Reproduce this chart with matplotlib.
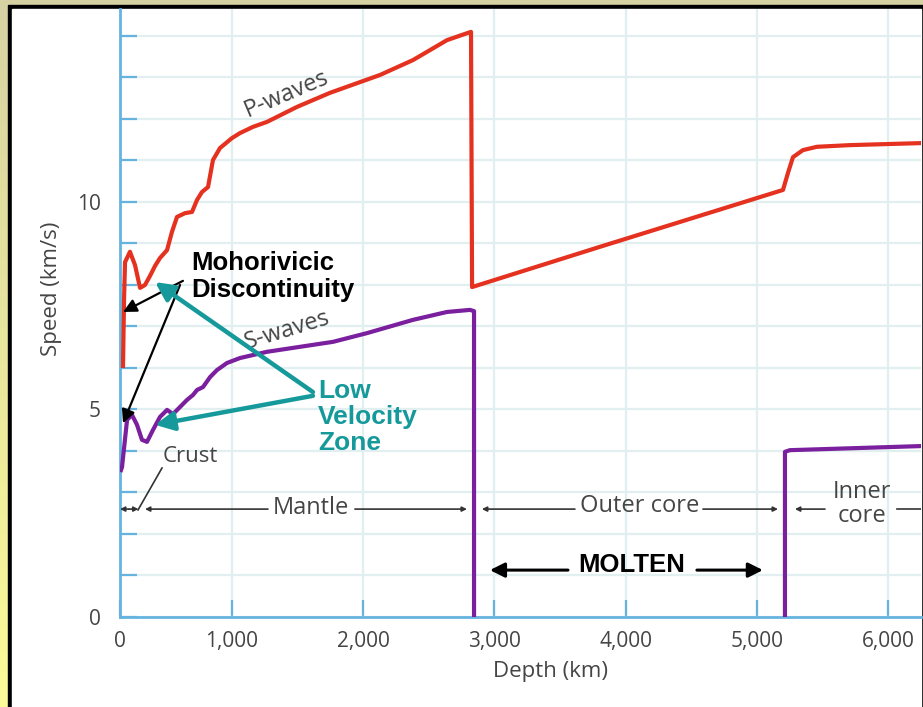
import numpy as np
import matplotlib
matplotlib.use("Agg")
import matplotlib.pyplot as plt
from matplotlib.patches import Rectangle
from matplotlib.colors import LinearSegmentedColormap

# P-wave speed (km/s) against depth (km)
p_depth = [27, 36, 45, 89, 134, 179, 223, 268, 313, 357, 420, 464, 509, 580, 643,
           688, 732, 786, 830, 893, 1000, 1061, 1160, 1267, 1495, 1747, 2128, 2380,
           2639, 2822, 2830, 3805, 5200, 5238, 5276, 5352, 5459, 5710, 6267]
p_speed = [6.05, 7.64, 8.55, 8.80, 8.48, 7.93, 8.00, 8.22, 8.46, 8.65, 8.84, 9.28,
           9.64, 9.73, 9.76, 10.05, 10.24, 10.36, 11.01, 11.30, 11.54, 11.66, 11.81,
           11.93, 12.29, 12.63, 13.06, 13.42, 13.90, 14.10, 7.95, 8.92, 10.29, 10.70,
           11.08, 11.25, 11.33, 11.37, 11.42]

# S-wave speed: mantle part, then inner core part (none in the outer core)
s_depth = [9, 18, 63, 107, 152, 196, 241, 295, 357, 420, 473, 536, 598, 652, 688,
           741, 804, 866, 955, 1061, 1267, 1518, 1770, 2029, 2380, 2639, 2814, 2845,
           2845]
s_speed = [3.54, 3.61, 4.75, 4.87, 4.63, 4.27, 4.22, 4.51, 4.82, 4.99, 4.89, 5.06,
           5.23, 5.35, 5.47, 5.54, 5.78, 5.95, 6.12, 6.24, 6.39, 6.51, 6.63, 6.84,
           7.16, 7.35, 7.40, 7.37, 0.0]
s_inner_depth = [5215, 5215, 5253, 6267]
s_inner_speed = [0.0, 3.98, 4.02, 4.12]

x_ticks = [0, 1000, 2000, 3000, 4000, 5000, 6000]
x_tick_labels = ["0", "1,000", "2,000", "3,000", "4,000", "5,000", "6,000"]
y_ticks = [0, 5, 10]

red = "#e5311f"
purple = "#7a1f9e"
teal = "#16999a"
blue = "#66b3df"
grey = "#454545"
grid_col = "#e2eff0"


# the printed depth axis is stretched a bit between 0 and 1,000 km
def fwd(x):
    x = np.asarray(x, float)
    return np.where(x <= 1000, x * 0.112, 112 + (x - 1000) * 0.1312)


def inv(p):
    p = np.asarray(p, float)
    return np.where(p <= 112, p / 0.112, 1000 + (p - 112) / 0.1312)


W, H = 923, 707
fig = plt.figure(figsize=(W / 100, H / 100), dpi=100)

# yellow frame, black border, white page
bg = fig.add_axes([0, 0, 1, 1], zorder=-10)
grad = np.linspace(0, 1, 256).reshape(-1, 1)
cmap = LinearSegmentedColormap.from_list("frame", ["#fbfb98", "#d6d2a4"])
bg.imshow(grad, extent=[0, 1, 0, 1], aspect="auto", cmap=cmap, origin="lower")
bg.add_patch(Rectangle((8 / W, 0), 1, (H - 5) / H, color="black"))
bg.add_patch(Rectangle((12 / W, 0), (921 - 12) / W, (H - 9) / H, color="white"))
bg.set_xlim(0, 1)
bg.set_ylim(0, 1)
bg.axis("off")

ax = fig.add_axes([120 / W, (H - 617) / H, (921 - 120) / W, (617 - 9) / H])
ax.set_facecolor("white")
ax.set_xscale("function", functions=(fwd, inv))
ax.set_xlim(0, 6252)
ax.set_ylim(0, 14.65)

ax.set_xticks(x_ticks)
ax.set_xticklabels(x_tick_labels)
ax.set_yticks(y_ticks)
ax.set_yticks(np.arange(0, 15), minor=True)
ax.grid(True, which="both", axis="y", color=grid_col, lw=1.6)
ax.grid(True, which="major", axis="x", color=grid_col, lw=1.6)
ax.set_axisbelow(True)

for side in ["top", "right"]:
    ax.spines[side].set_visible(False)
for side in ["left", "bottom"]:
    ax.spines[side].set_color(blue)
    ax.spines[side].set_linewidth(2)

ax.tick_params(which="both", direction="in", length=12, width=1.6, color=blue,
               labelcolor=grey)
ax.tick_params(axis="y", which="both", pad=14, labelsize=15)
ax.tick_params(axis="x", pad=10, labelsize=15)
for lab in ax.get_xticklabels() + ax.get_yticklabels():
    lab.set_family("Open Sans")

ax.set_xlabel("Depth (km)", family="Open Sans", fontsize=16, color=grey)
ax.xaxis.set_label_coords(0.537, -0.072)
ax.set_ylabel("Speed (km/s)", family="Open Sans", fontsize=16, color=grey)
ax.yaxis.set_label_coords(-0.073, 0.54)

# curves
ax.plot(p_depth, p_speed, color=red, lw=3, solid_joinstyle="round", zorder=4)
ax.plot(s_depth, s_speed, color=purple, lw=3, solid_joinstyle="round", zorder=4)
ax.plot(s_inner_depth, s_inner_speed, color=purple, lw=3, zorder=4)

ax.text(1419, 12.6, "P-waves", rotation=23, ha="center", va="center",
        family="Open Sans", fontsize=17, color=grey)
ax.text(1419, 6.9, "S-waves", rotation=17, ha="center", va="center",
        family="Open Sans", fontsize=17, color=grey)

# layer bars
small = dict(arrowstyle="-|>", color="#333333", lw=1.2, mutation_scale=7,
             shrinkA=0, shrinkB=0)
lay_y = 2.6
ax.annotate("", xy=(0, lay_y), xytext=(80, lay_y), arrowprops=small)
ax.annotate("", xy=(165, lay_y), xytext=(80, lay_y), arrowprops=small)
ax.annotate("", xy=(223, lay_y), xytext=(1274, lay_y), arrowprops=small)
ax.annotate("", xy=(2791, lay_y), xytext=(1937, lay_y), arrowprops=small)
ax.annotate("", xy=(2905, lay_y), xytext=(3614, lay_y), arrowprops=small)
ax.annotate("", xy=(5162, lay_y), xytext=(4590, lay_y), arrowprops=small)
ax.annotate("", xy=(5291, lay_y), xytext=(5520, lay_y), arrowprops=small)
ax.plot([6069, 6300], [lay_y, lay_y], color="#333333", lw=1.2, clip_on=True)

lay_font = dict(family="Open Sans", fontsize=17, color=grey, ha="center",
                va="center")
ax.text(1602, 2.62, "Mantle", **lay_font)
ax.text(4110, 2.68, "Outer core", **lay_font)
ax.text(5802, 2.72, "Inner\ncore", linespacing=1.0, **lay_font)
ax.text(384, 3.86, "Crust", family="Open Sans", fontsize=16, color=grey,
        ha="left", va="center")
ax.plot([375, 161], [3.59, 2.58], color="#333333", lw=1.2)

# overlays
bold = dict(family="Liberation Sans", fontweight="bold", fontsize=18.5)
ax.text(634, 8.82, "Mohorivicic\nDiscontinuity", color="black", ha="left",
        va="top", linespacing=1.15, zorder=6, **bold)
black_arrow = dict(arrowstyle="-|>", color="black", lw=1.6, mutation_scale=20,
                   shrinkA=0, shrinkB=0)
ax.annotate("", xy=(27, 7.35), xytext=(562, 8.10), arrowprops=black_arrow, zorder=6)
ax.annotate("", xy=(27, 4.67), xytext=(536, 8.0), arrowprops=black_arrow, zorder=6)

ax.text(1655, 5.74, "Low\nVelocity\nZone", color=teal, ha="left", va="top",
        linespacing=1.12, zorder=6, fontfamily="Liberation Sans",
        fontweight="bold", fontsize=19)
teal_arrow = dict(arrowstyle="-|>", color=teal, lw=3.2, mutation_scale=28,
                  shrinkA=0, shrinkB=0)
ax.annotate("", xy=(313, 8.07), xytext=(1617, 5.42), arrowprops=teal_arrow, zorder=6)
ax.annotate("", xy=(313, 4.63), xytext=(1617, 5.33), arrowprops=teal_arrow, zorder=6)

ax.text(4049, 1.26, "MOLTEN", color="black", ha="center", va="center", zorder=6,
        **bold)
molten_arrow = dict(arrowstyle="-|>", color="black", lw=2.2, mutation_scale=22,
                    shrinkA=0, shrinkB=0)
ax.annotate("", xy=(2966, 1.13), xytext=(3561, 1.13), arrowprops=molten_arrow)
ax.annotate("", xy=(5047, 1.13), xytext=(4544, 1.13), arrowprops=molten_arrow)

fig.savefig("out.png", dpi=100)
